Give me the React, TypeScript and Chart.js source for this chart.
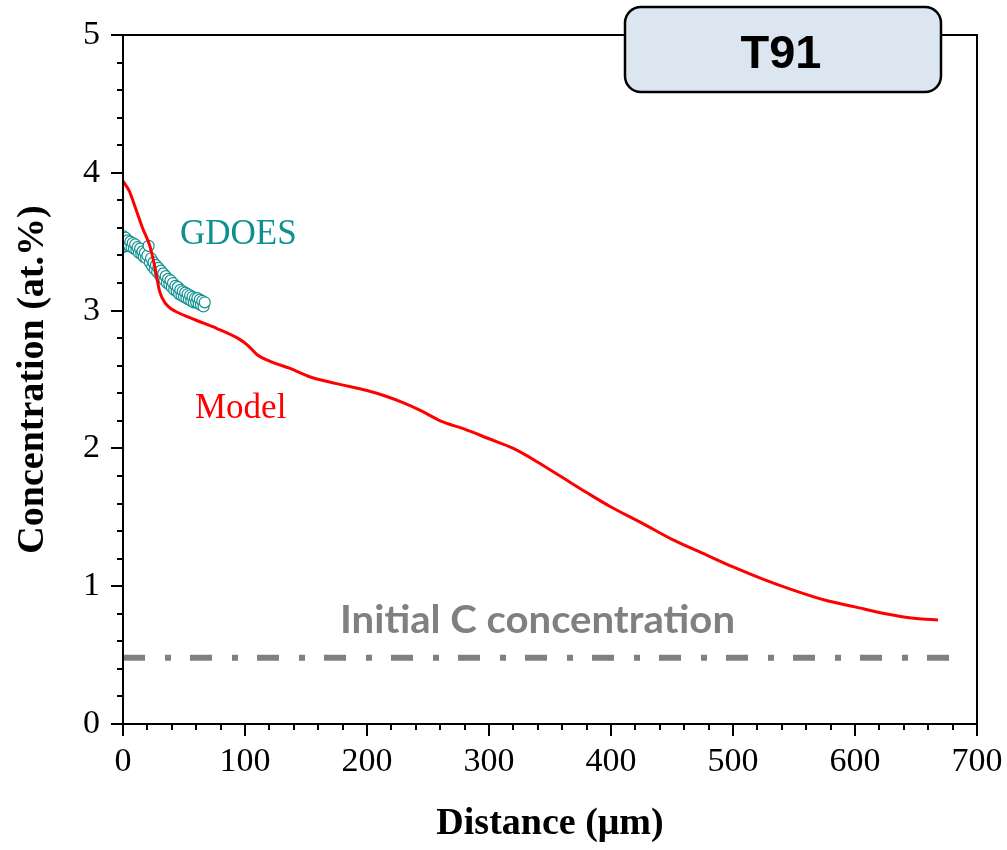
import React, { useEffect, useRef } from 'react';
import { Chart, registerables } from 'chart.js';

Chart.register(...registerables);

// Model profile (distance in µm, concentration at.%)
const modelX = [0, 5, 10, 16, 22, 26, 30, 35, 40, 44, 60, 77, 94, 102, 110, 121, 137, 153, 175, 200, 215, 230, 245, 260, 280, 300, 320, 340, 360, 380, 400, 425, 450, 475, 500, 525, 550, 575, 600, 625, 650, 668];
const modelY = [3.94, 3.87, 3.75, 3.6, 3.47, 3.32, 3.14, 3.05, 3.01, 2.99, 2.93, 2.87, 2.8, 2.75, 2.68, 2.63, 2.58, 2.52, 2.47, 2.42, 2.38, 2.33, 2.27, 2.2, 2.14, 2.07, 2.0, 1.9, 1.79, 1.68, 1.575, 1.46, 1.34, 1.24, 1.14, 1.05, 0.97, 0.9, 0.85, 0.8, 0.765, 0.755];

// GDOES measurements
const gdoesX = [0, 0, 0, 1, 1, 2, 2, 3, 4, 5, 6, 7, 8, 9, 10, 11, 12, 13, 14, 15, 16, 17, 18, 19, 20, 21, 22, 23, 24, 25, 26, 27, 28, 29, 30, 31, 32, 33, 34, 35, 36, 37, 38, 39, 40, 41, 42, 43, 44, 45, 46, 47, 48, 49, 50, 51, 52, 53, 54, 55, 56, 57, 58, 59, 60, 61, 62, 63, 64, 65, 66, 67];
const gdoesY = [3.5, 3.46, 3.54, 3.51, 3.47, 3.5, 3.53, 3.48, 3.51, 3.47, 3.5, 3.46, 3.49, 3.45, 3.48, 3.44, 3.46, 3.42, 3.45, 3.41, 3.43, 3.39, 3.42, 3.38, 3.4, 3.47, 3.35, 3.38, 3.32, 3.35, 3.3, 3.33, 3.28, 3.31, 3.26, 3.29, 3.24, 3.27, 3.22, 3.25, 3.2, 3.23, 3.19, 3.22, 3.17, 3.2, 3.15, 3.18, 3.14, 3.17, 3.12, 3.15, 3.11, 3.14, 3.1, 3.13, 3.09, 3.12, 3.08, 3.11, 3.07, 3.1, 3.06, 3.09, 3.06, 3.09, 3.05, 3.08, 3.04, 3.07, 3.03, 3.06];

// Initial carbon concentration reference line
const initialX = [0, 690];
const initialY = [0.48, 0.48];

const xMajor = [0, 100, 200, 300, 400, 500, 600, 700];
const yMajor = [0, 1, 2, 3, 4, 5];

const SERIF = '"Liberation Serif", "Times New Roman", serif';
const TEAL = '#0e9090';

const decorPlugin = {
  id: 'decor',
  afterDraw(chart: any) {
    const { ctx, chartArea: ca, scales } = chart;
    const x = scales.x;
    const y = scales.y;
    ctx.save();
    // frame
    ctx.strokeStyle = '#000';
    ctx.lineWidth = 2;
    ctx.strokeRect(ca.left, ca.top, ca.right - ca.left, ca.bottom - ca.top);
    // ticks
    ctx.beginPath();
    for (let i = 0; i <= 35; i++) {
      const v = i * 20;
      const px = Math.round(x.getPixelForValue(v));
      const len = i % 5 === 0 ? 12 : 6;
      ctx.moveTo(px, ca.bottom);
      ctx.lineTo(px, ca.bottom + len);
    }
    for (let i = 0; i <= 25; i++) {
      const v = i * 0.2;
      const py = Math.round(y.getPixelForValue(v));
      const len = i % 5 === 0 ? 12 : 6;
      ctx.moveTo(ca.left, py);
      ctx.lineTo(ca.left - len, py);
    }
    ctx.stroke();

    // annotations
    ctx.textAlign = 'left';
    ctx.textBaseline = 'alphabetic';
    ctx.font = `35px ${SERIF}`;
    ctx.fillStyle = TEAL;
    ctx.fillText('GDOES', 180, 244);
    ctx.fillStyle = '#ff0000';
    ctx.fillText('Model', 195, 418);

    // Initial C concentration label (fit to measured box)
    const label = 'Initial C concentration';
    ctx.font = `bold 39px Lato, "Open Sans", sans-serif`;
    const w = ctx.measureText(label).width;
    ctx.save();
    ctx.translate(340, 633);
    ctx.scale(395 / w, 1);
    ctx.fillStyle = '#808080';
    ctx.textAlign = 'left';
    ctx.fillText(label, 0, 0);
    ctx.restore();

    // T91 box
    ctx.beginPath();
    (ctx as any).roundRect(625, 7, 316, 85, 16);
    ctx.fillStyle = '#dce6f1';
    ctx.fill();
    ctx.lineWidth = 2.5;
    ctx.strokeStyle = '#000';
    ctx.stroke();
    ctx.fillStyle = '#000';
    ctx.font = `bold 47px "Liberation Sans", Arial, sans-serif`;
    ctx.textAlign = 'center';
    ctx.fillText('T91', 781, 68);
    ctx.restore();
  },
};

export default function App() {
  const ref = useRef<HTMLCanvasElement | null>(null);
  useEffect(() => {
    if (!ref.current) return;
    const chart = new Chart(ref.current, {
      type: 'scatter',
      data: {
        datasets: [
          {
            label: 'Model',
            data: modelX.map((v, i) => ({ x: v, y: modelY[i] })),
            showLine: true,
            borderColor: '#ff0000',
            borderWidth: 3,
            pointRadius: 0,
            cubicInterpolationMode: 'monotone',
            fill: false,
          } as any,
          {
            label: 'GDOES',
            data: gdoesX.map((v, i) => ({ x: v, y: gdoesY[i] })),
            showLine: false,
            pointRadius: 5.5,
            borderColor: TEAL,
            backgroundColor: '#ffffff',
            borderWidth: 1.2,
          },
          {
            label: 'Initial C concentration',
            data: initialX.map((v, i) => ({ x: v, y: initialY[i] })),
            showLine: true,
            borderColor: '#808080',
            borderWidth: 6,
            borderDash: [22, 20, 6, 19],
            pointRadius: 0,
            fill: false,
          } as any,
        ],
      },
      options: {
        animation: false,
        responsive: false,
        devicePixelRatio: 1,
        layout: { padding: { top: 35, right: 30, left: 0, bottom: 0 } },
        plugins: { legend: { display: false }, tooltip: { enabled: false } },
        scales: {
          x: {
            type: 'linear',
            min: 0,
            max: 700,
            afterFit: (s: any) => { s.height = 126; s.paddingLeft = 0; s.paddingRight = 0; },
            afterBuildTicks: (s: any) => { s.ticks = xMajor.map((v) => ({ value: v })); },
            grid: { display: false, drawTicks: false },
            border: { display: false },
            ticks: {
              padding: 18,
              autoSkip: false,
              maxRotation: 0,
              color: '#000',
              font: { family: SERIF, size: 34 },
            },
            title: {
              display: true,
              text: 'Distance (μm)',
              color: '#000',
              font: { family: SERIF, size: 38, weight: 'bold' },
              padding: { top: 0, bottom: 3 },
            },
          },
          y: {
            type: 'linear',
            min: 0,
            max: 5,
            afterFit: (s: any) => { s.width = 123; s.paddingTop = 0; s.paddingBottom = 0; },
            afterBuildTicks: (s: any) => { s.ticks = yMajor.map((v) => ({ value: v })); },
            grid: { display: false, drawTicks: false },
            border: { display: false },
            ticks: {
              padding: 23,
              autoSkip: false,
              color: '#000',
              font: { family: SERIF, size: 34 },
            },
            title: {
              display: true,
              text: 'Concentration (at.%)',
              color: '#000',
              font: { family: SERIF, size: 38, weight: 'bold' },
              padding: { top: 10, bottom: 0 },
            },
          },
        },
      } as any,
      plugins: [decorPlugin],
    });
    return () => chart.destroy();
  }, []);
  return (
    <div style={{ position: 'absolute', left: 0, top: 0, width: 1007, height: 850, background: '#fff' }}>
      <canvas ref={ref} width={1007} height={850} style={{ display: 'block' }} />
    </div>
  );
}
